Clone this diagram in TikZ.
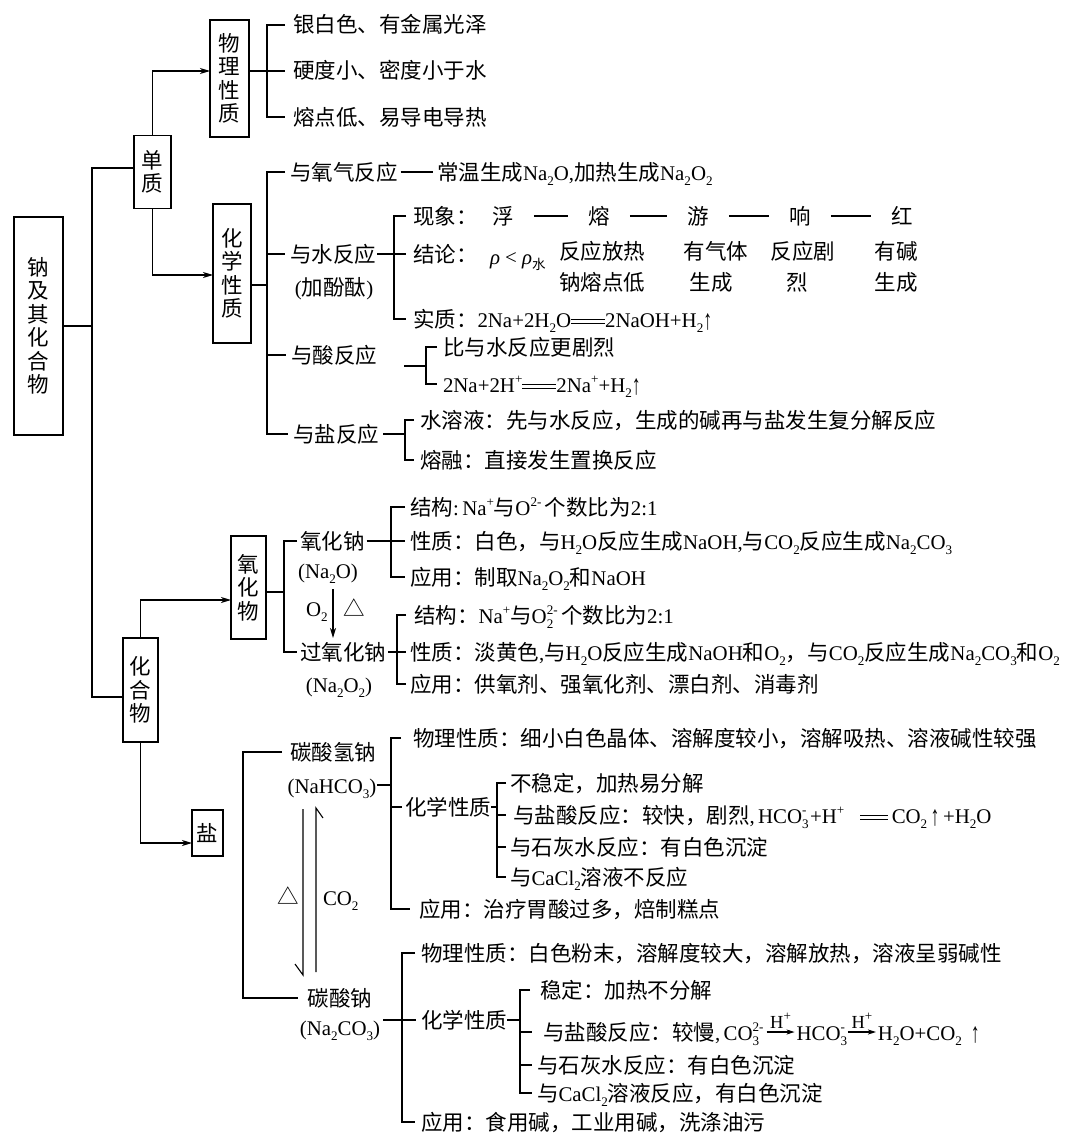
\documentclass[tikz,border=0pt]{standalone}
\usepackage{fontspec}
\setmainfont[Scale=0.97]{Liberation Serif}
\newfontfamily\cjk{Noto Sans CJK SC}
\usetikzlibrary{arrows.meta,positioning}
\newcount\cjkcnt
\newXeTeXintercharclass\CJKcls
\newcommand\setcjkrange[2]{\cjkcnt=#1 \loop\XeTeXcharclass\cjkcnt=\CJKcls\advance\cjkcnt by 1 \ifnum\cjkcnt<#2 \repeat}
\setcjkrange{"3000}{"3040}
\setcjkrange{"4E00}{"A000}
\setcjkrange{"FF00}{"FFF0}
\XeTeXcharclass"25B3=\CJKcls
\XeTeXinterchartoks 0 \CJKcls = {\begingroup\cjk}
\XeTeXinterchartoks 4095 \CJKcls = {\begingroup\cjk}
\XeTeXinterchartoks \CJKcls 0 = {\endgroup}
\XeTeXinterchartoks \CJKcls 4095 = {\endgroup}
\XeTeXinterchartokenstate=1
\newcommand\fsn{\fontsize{21.5}{25}\selectfont}
\newcommand\fsv{\fontsize{21.5}{23.5}\selectfont}
\newcommand\fss{\fontsize{19}{20}\selectfont}
\newcommand\lo[1]{\raisebox{-0.25em}{\fontsize{13.5}{13.5}\selectfont #1}}
\newcommand\hi[1]{\raisebox{0.42em}{\fontsize{13.5}{13.5}\selectfont #1}}
\newcommand\losup[2]{\rlap{\lo{#1}}\hi{#2}}
\newcommand\longeq[1][32pt]{\raisebox{3.2pt}{\vbox{\hrule width #1 height 1.1pt\kern2.6pt\hrule width #1 height 1.1pt}}}
\newcommand\upar{\raisebox{-2pt}{\scalebox{0.85}[1.35]{↑}}}
\begin{document}
\begin{tikzpicture}[x=1pt,y=-1pt,line width=1.1pt,
 every node/.style={inner sep=0pt,outer sep=0pt},
 txt/.style={anchor=west,font=\fsn,text height=19pt,text depth=3pt},
 ctxt/.style={anchor=center,font=\fsn,text height=19pt,text depth=3pt},
 vbox/.style={draw,line width=1.1pt,font=\fsv,align=center},
 arr/.style={-{Stealth[length=10pt,width=6pt,inset=3pt]}},
 sarr/.style={-{Stealth[length=8pt,width=5pt,inset=2pt]}}]
\path[fill=white,use as bounding box] (0,0) rectangle (1080,1145);
% boxes
\node[vbox,minimum width=49pt,minimum height=218pt] (b0) at (38.5,326) {钠\\及\\其\\化\\合\\物};
\node[vbox,minimum width=37pt,minimum height=73pt] (b1) at (152.5,172) {单\\质};
\node[vbox,minimum width=39pt,minimum height=117pt] (b2) at (229.5,78.5) {物\\理\\性\\质};
\node[vbox,minimum width=38pt,minimum height=139pt] (b3) at (232,273.5) {化\\学\\性\\质};
\node[vbox,minimum width=35pt,minimum height=104pt] (b4) at (140.5,690) {化\\合\\物};
\node[vbox,minimum width=35pt,minimum height=103pt] (b5) at (248.5,587.5) {氧\\化\\物};
\node[vbox,minimum width=31pt,minimum height=46pt] (b6) at (207.5,833) {盐};
% physical
\node[txt] (p1) at (293,25) {银白色、有金属光泽};
\node[txt] (p2) at (293,71) {硬度小、密度小于水};
\node[txt] (p3) at (293,117) {熔点低、易导电导热};
% chemical
\node[txt] (c1) at (290,172) {与氧气反应};
\node[txt] (c1b) at (437,172) {常温生成Na\lo2O,加热生成Na\lo2O\lo2};
\node[txt] (c2) at (290,254) {与水反应};
\node[ctxt] (c2b) at (334,287) {(加酚酞)};
\node[txt] (w1) at (413,216) {现象：};
\node[ctxt] (f1) at (503,216) {浮};
\node[ctxt] (f2) at (599,216) {熔};
\node[ctxt] (f3) at (698,216) {游};
\node[ctxt] (f4) at (800,216) {响};
\node[ctxt] (f5) at (902,216) {红};
\node[txt] (w2) at (413,254) {结论：};
\node[txt] (rho) at (490,256) {{\itshape ρ} < {\itshape ρ}\lo{水}};
\node[txt] (k1a) at (559,251) {反应放热};
\node[txt] (k1b) at (559,282) {钠熔点低};
\node[ctxt] (k2a) at (716,251) {有气体};
\node[ctxt] (k2b) at (711,282) {生成};
\node[ctxt] (k3a) at (803,251) {反应剧};
\node[ctxt] (k3b) at (797,282) {烈};
\node[ctxt] (k4a) at (896,251) {有碱};
\node[ctxt] (k4b) at (896,282) {生成};
\node[txt] (w3) at (413,319) {实质：2Na+2H\lo2O\longeq[34pt]2NaOH+H\lo2\upar};
\node[txt] (c3) at (291,355) {与酸反应};
\node[txt] (a1) at (443,347) {比与水反应更剧烈};
\node[txt] (a2) at (443,384) {2Na+2H\hi{+}\longeq[34pt]2Na\hi{+}+H\lo2\upar};
\node[txt] (c4) at (293,434) {与盐反应};
\node[txt] (s1) at (420,420) {水溶液：先与水反应，生成的碱再与盐发生复分解反应};
\node[txt] (s2) at (420,460) {熔融：直接发生置换反应};
% oxides
\node[txt] (n1) at (300,541) {氧化钠};
\node[ctxt] (n1b) at (328,570) {(Na\lo2O)};
\node[txt] (o2l) at (306,608) {O\lo2};
\node[txt] (tri) at (343,608) {△};
\node[txt] (n2) at (300,652) {过氧化钠};
\node[ctxt] (n2b) at (339,684) {(Na\lo2O\lo2)};
\node[txt] (x1) at (410,507) {结构:\,Na\hi{+}与O\hi{2-}\,个数比为2:1};
\node[txt] (x2) at (410,541) {性质：白色，与H\lo2O反应生成NaOH,与CO\lo2反应生成Na\lo2CO\lo3};
\node[txt] (x3) at (410,577) {应用：制取Na\lo2O\lo2和NaOH};
\node[txt] (y1) at (414,615) {结构：Na\hi{+}与O\losup{2}{2-}\,个数比为2:1};
\node[txt] (y2) at (410,652) {性质：淡黄色,与H\lo2O反应生成NaOH和O\lo2，与CO\lo2反应生成Na\lo2CO\lo3和O\lo2};
\node[txt] (y3) at (410,684) {应用：供氧剂、强氧化剂、漂白剂、消毒剂};
% salts
\node[ctxt] (h1) at (333,752) {碳酸氢钠};
\node[ctxt] (h1b) at (332,785) {(NaHCO\lo3)};
\node[txt] (hp) at (413,738) {物理性质：细小白色晶体、溶解度较小，溶解吸热、溶液碱性较强};
\node[txt] (hc) at (405,807) {化学性质};
\node[txt] (hc1) at (510,783) {不稳定，加热易分解};
\node[txt] (hc2) at (513,815) {与盐酸反应：较快，剧烈,\,HCO\losup{3}{-}\,+H\hi{+}\hspace{16pt}\longeq[28pt]\,CO\lo2\,\upar\,+H\lo2O};
\node[txt] (hc3) at (510,847) {与石灰水反应：有白色沉淀};
\node[txt] (hc4) at (510,877) {与CaCl\lo2溶液不反应};
\node[txt] (ha) at (419,909) {应用：治疗胃酸过多，焙制糕点};
\node[ctxt] (tri2) at (288,896) {△};
\node[txt] (co2) at (323,897) {CO\lo2};
\node[ctxt] (g1) at (340,998) {碳酸钠};
\node[ctxt] (g1b) at (340,1027) {(Na\lo2CO\lo3)};
\node[txt] (gp) at (421,953) {物理性质：白色粉末，溶解度较大，溶解放热，溶液呈弱碱性};
\node[txt] (gc) at (421,1020) {化学性质};
\node[txt] (gc1) at (540,990) {稳定：加热不分解};
\node[txt] (r1) at (543,1032) {与盐酸反应：较慢,\,CO\losup{3}{2-}};
\node[txt,right=33pt of r1] (r2) {HCO\losup{3}{-}};
\node[txt,right=33pt of r2] (r3) {H\lo2O+CO\lo2\hspace{9pt}\upar};
\node[txt] (gc3) at (537,1065) {与石灰水反应：有白色沉淀};
\node[txt] (gc4) at (537,1093) {与CaCl\lo2溶液反应，有白色沉淀};
\node[txt] (ga) at (421,1122) {应用：食用碱，工业用碱，洗涤油污};
% trunk
\draw (b0.east) -- (92,0 |- b0.east);
\draw (b1.west |- 0,168) -| (92,697) -- (b4.west |- 0,697);
\draw[arr] (b1.north) |- (b2.west |- p2.west);
\draw[arr] (b1.south) |- (b3.west |- 0,275);
\draw[arr] (b4.north) |- (b5.west |- 0,600);
\draw[arr] (b4.south) |- (b6.west |- 0,843);
% physical bracket
\draw (b2.east |- p2.west) -- ([xshift=-8pt]p2.west);
\draw ([xshift=-8pt]p1.west) -| (267,0 |- p3.west) -- ([xshift=-8pt]p3.west);
% chemical bracket
\draw (b3.east |- 0,285) -- (267,285);
\draw ([xshift=-5pt]c1.west) -| (267,0 |- c4.west) -- ([xshift=-5pt]c4.west);
\draw (267,0 |- c2.west) -- ([xshift=-5pt]c2.west);
\draw (267,0 |- c3.west) -- ([xshift=-5pt]c3.west);
\draw ([xshift=3pt]c1.east) -- ([xshift=-4pt]c1b.west);
% water
\draw ([xshift=1pt]c2.east) -- ([xshift=-7pt]w2.west);
\draw ([xshift=-7pt]w1.west) -| (394,0 |- w3.west) -- ([xshift=-7pt]w3.west);
\foreach \a/\b in {f1/f2,f2/f3,f3/f4,f4/f5} \draw[shorten <=20pt,shorten >=20pt] (\a.east) -- (\b.west);
% acid
\coordinate (ca) at (404,366);
\draw (ca) -- (426,0 |- ca);
\draw ([xshift=-6pt]a1.west) -| (426,0 |- a2.west) -- ([xshift=-6pt]a2.west);
% salt reaction
\draw ([xshift=4pt]c4.east) -- (405,0 |- c4.east);
\draw ([xshift=-6pt]s1.west) -| (405,0 |- s2.west) -- ([xshift=-6pt]s2.west);
% oxides
\draw (b5.east |- 0,592) -- (284,592);
\draw ([xshift=-3pt]n1.west) -| (284,0 |- n2.west) -- ([xshift=-3pt]n2.west);
\draw[arr,shorten <=8pt,shorten >=3pt] (333,0 |- n1b.south) -- (333,0 |- n2.north);
\draw ([xshift=2pt]n1.east) -- ([xshift=-5pt]x2.west);
\draw ([xshift=-5pt]x1.west) -| (391,0 |- x3.west) -- ([xshift=-5pt]x3.west);
\draw ([xshift=2pt]n2.east) -- ([xshift=-4pt]y2.west);
\draw ([xshift=-8pt]y1.west) -| (397,0 |- y3.west) -- ([xshift=-4pt]y3.west);
% NaHCO3
\draw ([xshift=-8pt]h1.west) -| (243,0 |- g1.west) -- ([xshift=-10pt]g1.west);
\draw ([xshift=1pt]h1b.east) -- (391,0 |- h1b.east);
\draw ([xshift=-12pt]hp.west) -| (391,0 |- ha.west) -- ([xshift=-9pt]ha.west);
\draw (391,0 |- hc.west) -- ([xshift=-3pt]hc.west);
\draw (hc.east) -- (497,0 |- hc.east);
\draw ([xshift=-4pt]hc1.west) -| (497,0 |- hc4.west) -- ([xshift=-4pt]hc4.west);
\draw (497,0 |- hc2.west) -- ([xshift=-7pt]hc2.west);
\draw (497,0 |- hc3.west) -- ([xshift=-4pt]hc3.west);
% conversion harpoons
\coordinate (dl1) at (303,809); \coordinate (dl2) at (303,975);
\coordinate (dr1) at (316,972); \coordinate (dr2) at (316,808);
\draw (dl1) -- (dl2) -- ++(-8,-11);
\draw (dr1) -- (dr2) -- ++(7,10);
% Na2CO3
\draw[shorten <=3pt] (g1b.east |- gc.west) -- ([xshift=-5pt]gc.west);
\draw ([xshift=-6pt]gp.west) -| (402,0 |- ga.west) -- ([xshift=-6pt]ga.west);
\draw (gc.east) -- (520,0 |- gc.east);
\draw ([xshift=-10pt]gc1.west) -| (520,0 |- gc4.west) -- ([xshift=-5pt]gc4.west);
\draw (520,0 |- r1.west) -- ([xshift=-11pt]r1.west);
\draw (520,0 |- gc3.west) -- ([xshift=-5pt]gc3.west);
\draw[sarr] ([xshift=3pt]r1.east) -- ([xshift=-2pt]r2.west) node[midway,above=4pt,font=\fss]{H\hi{+}};
\draw[sarr] ([xshift=3pt]r2.east) -- ([xshift=-2pt]r3.west) node[midway,above=4pt,font=\fss]{H\hi{+}};
\end{tikzpicture}
\end{document}
